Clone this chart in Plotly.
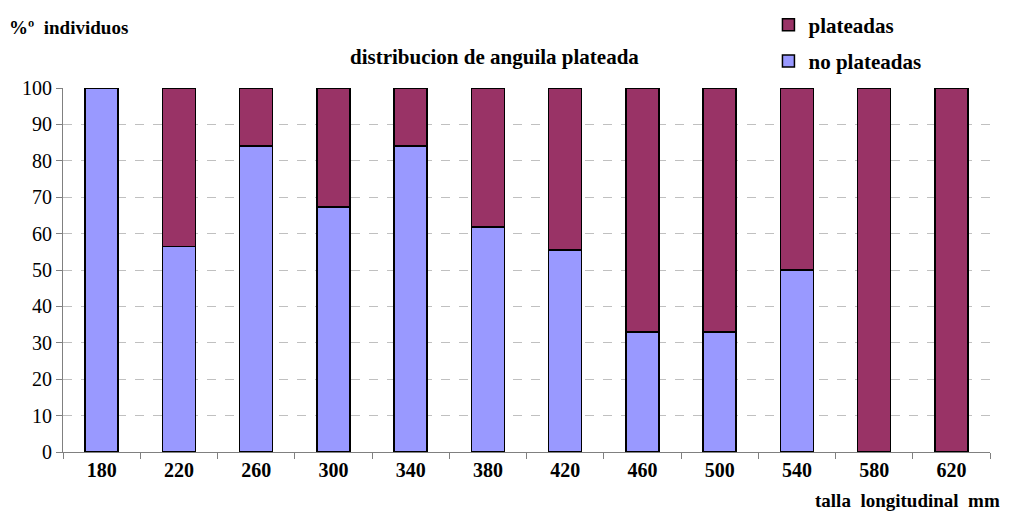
import plotly.graph_objects as go

categories = ["180", "220", "260", "300", "340", "380", "420", "460", "500", "540", "580", "620"]
no_plateadas = [100, 56.5, 84, 67.3, 84, 61.8, 55.5, 33, 33, 50, 0, 0]
plateadas = [0, 43.5, 16, 32.7, 16, 38.2, 44.5, 67, 67, 50, 100, 100]
y_ticks = [0, 10, 20, 30, 40, 50, 60, 70, 80, 90, 100]

FONT = "Liberation Serif"

fig = go.Figure()
fig.add_trace(go.Bar(
    x=categories, y=no_plateadas, name="<b>no plateadas</b>",
    marker=dict(color="#9999FF", line=dict(color="black", width=1.5)),
    legendgroup="a", legendrank=2,
))
fig.add_trace(go.Bar(
    x=categories, y=plateadas, name="<b>plateadas</b>",
    marker=dict(color="#993366", line=dict(color="black", width=1.5)),
    legendgroup="b", legendrank=1,
))

fig.update_layout(
    width=1005, height=505,
    barmode="stack", bargap=0.57,
    plot_bgcolor="white", paper_bgcolor="white",
    margin=dict(l=55, r=23, t=80, b=61, autoexpand=False),
    font=dict(family=FONT, color="black"),
    showlegend=True,
    legend=dict(
        x=0.761, y=1.229, xanchor="left", yanchor="top",
        traceorder="grouped", tracegroupgap=6,
        font=dict(size=21, family=FONT),
        bgcolor="rgba(0,0,0,0)",
    ),
    xaxis=dict(
        type="category", showline=True, linecolor="#808080", linewidth=1,
        ticks="outside", tickson="boundaries", ticklen=6, tickcolor="#808080",
        tickfont=dict(size=20, family=FONT),
        showgrid=False,
        tickprefix="<b>", ticksuffix="</b>",
    ),
    yaxis=dict(
        range=[0, 100], tickvals=y_ticks,
        showline=True, linecolor="#808080", linewidth=1,
        ticks="outside", ticklen=6, tickcolor="#808080",
        tickfont=dict(size=20, family=FONT),
        tickprefix="<b>", ticksuffix="</b>",
        showgrid=True, gridcolor="#C0C0C0", griddash="dash", gridwidth=1,
        zeroline=False,
    ),
    annotations=[
        dict(text="<b>distribucion de anguila plateada</b>", xref="paper", yref="paper",
             x=0.466, y=1.085, xanchor="center", yanchor="middle", showarrow=False,
             font=dict(size=21, family=FONT)),
        dict(text="<b>%º  individuos</b>", xref="paper", yref="paper",
             x=-0.06, y=1.165, xanchor="left", yanchor="middle", showarrow=False,
             font=dict(size=19, family=FONT)),
        dict(text="<b>talla  longitudinal  mm</b>", xref="paper", yref="paper",
             x=1.013, y=-0.134, xanchor="right", yanchor="middle", showarrow=False,
             font=dict(size=19, family=FONT)),
    ],
)

fig.write_html("out.html")
